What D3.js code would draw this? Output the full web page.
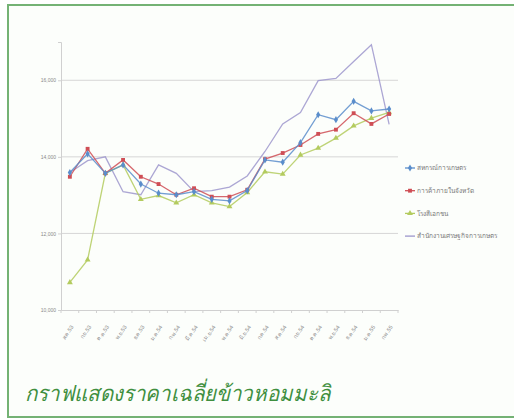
<!DOCTYPE html>
<html>
<head>
<meta charset="utf-8">
<script src="https://cdn.jsdelivr.net/npm/d3@7"></script>
<style>
  body { margin: 0; background: #fff; }
  svg { display: block; font-family: "Noto Sans", "DejaVu Sans", sans-serif; }
</style>
</head>
<body>
<svg width="514" height="419"></svg>
<script>
// months ส.ค.53 - ก.พ.55
var months = ['ส.ค.53', 'ก.ย.53', 'ต.ค.53', 'พ.ย.53', 'ธ.ค.53', 'ม.ค.54', 'ก.พ.54',
    'มี.ค.54', 'เม.ย.54', 'พ.ค.54', 'มิ.ย.54', 'ก.ค.54', 'ส.ค.54', 'ก.ย.54',
    'ต.ค.54', 'พ.ย.54', 'ธ.ค.54', 'ม.ค.55', 'ก.พ.55'];

var coop = [13590, 14080, 13570, 13790, 13290, 13050, 13010, 13090, 12890, 12850,
    13120, 13920, 13860, 14370, 15100, 14970, 15450, 15200, 15250];
var trade = [13480, 14210, 13570, 13920, 13480, 13290, 13010, 13180, 12960, 12960,
    13140, 13940, 14100, 14310, 14600, 14710, 15140, 14860, 15120];
var mill = [10720, 11310, 13570, 13790, 12890, 12990, 12800, 13010, 12800, 12700,
    13070, 13610, 13550, 14050, 14230, 14490, 14810, 15010, 15160];
var oae = [13590, 13900, 14000, 13090, 13010, 13790, 13570, 13090, 13120, 13210,
    13500, 14140, 14860, 15160, 15990, 16050, 16490, 16930, 14850];

var seriesNames = ['สหกรณ์การเกษตร', 'การค้าภายในจังหวัด', 'โรงสีเอกชน', 'สำนักงานเศรษฐกิจการเกษตร'];
var yTicks = [10000, 12000, 14000, 16000];

var series = [
    { name: seriesNames[0], values: coop, color: '#5a8dcb', marker: d3.symbolDiamond },
    { name: seriesNames[1], values: trade, color: '#cf4e55', marker: d3.symbolSquare },
    { name: seriesNames[2], values: mill, color: '#b3cb5e', marker: d3.symbolTriangle },
    { name: seriesNames[3], values: oae, color: '#9d96cc', marker: null }
];

var svg = d3.select('svg');

// frame
svg.append('rect')
    .attr('x', 8).attr('y', 5)
    .attr('width', 520).attr('height', 412)
    .attr('fill', '#fcfefb')
    .attr('stroke', '#74b274')
    .attr('stroke-width', 2);

var plotLeft = 61, plotRight = 398, plotTop = 42, plotBottom = 310;

var x = d3.scaleBand().domain(months).range([plotLeft, plotRight]);
var y = d3.scaleLinear().domain([10000, 17000]).range([plotBottom, plotTop]);

// gridlines
svg.append('g')
    .selectAll('line')
    .data(yTicks.slice(1))
    .enter()
    .append('line')
        .attr('x1', plotLeft).attr('x2', plotRight)
        .attr('y1', function(d) { return y(d); })
        .attr('y2', function(d) { return y(d); })
        .attr('stroke', '#d6d6d6')
        .attr('stroke-width', 1);

// y axis
var yAxis = svg.append('g')
    .attr('transform', 'translate(' + plotLeft + ',0)')
    .call(d3.axisLeft(y).tickValues(yTicks).tickSize(3).tickFormat(d3.format(',')));
yAxis.select('.domain').attr('stroke', '#d0d0d0');
yAxis.selectAll('.tick line').attr('stroke', '#d0d0d0');
yAxis.selectAll('text').attr('fill', '#8a8a8a').attr('font-size', 5).attr('x', -5);

// x axis
var xAxis = svg.append('g')
    .attr('transform', 'translate(0,' + plotBottom + ')')
    .call(d3.axisBottom(x).tickSize(0));
xAxis.select('.domain').attr('stroke', '#d0d0d0');
xAxis.selectAll('.tick text')
    .attr('fill', '#8a8a8a')
    .attr('font-size', 5.5)
    .attr('text-anchor', 'end')
    .attr('y', 0)
    .attr('dy', 0)
    .attr('transform', 'translate(4,17) rotate(-55)');
// tick marks between categories
svg.append('g')
    .selectAll('line')
    .data(months.concat(['end']))
    .enter()
    .append('line')
        .attr('x1', function(d, i) { return plotLeft + i * x.bandwidth(); })
        .attr('x2', function(d, i) { return plotLeft + i * x.bandwidth(); })
        .attr('y1', plotBottom).attr('y2', plotBottom + 3)
        .attr('stroke', '#d0d0d0');

var line = d3.line()
    .x(function(d, i) { return x(months[i]) + x.bandwidth() / 2; })
    .y(function(d) { return y(d); });

// draw purple first so other series sit over it
series.slice().reverse().forEach(function(s) {
    svg.append('path')
        .datum(s.values)
        .attr('d', line)
        .attr('fill', 'none')
        .attr('stroke', s.color)
        .attr('stroke-width', 1.3)
        .attr('opacity', 0.85);

    if (!s.marker) return;
    svg.append('g')
        .selectAll('path')
        .data(s.values)
        .enter()
        .append('path')
            .attr('transform', function(d, i) {
                return 'translate(' + (x(months[i]) + x.bandwidth() / 2) + ',' + y(d) + ')';
            })
            .attr('d', d3.symbol().type(s.marker).size(15))
            .attr('fill', s.color);
});

// legend
var legend = svg.append('g')
    .selectAll('g')
    .data(series)
    .enter()
    .append('g')
        .attr('transform', function(d, i) { return 'translate(405,' + (168 + i * 22.7) + ')'; });
legend.append('line')
    .attr('x1', 0).attr('x2', 10)
    .attr('stroke', function(d) { return d.color; })
    .attr('stroke-width', 1.3);
legend.filter(function(d) { return d.marker; })
    .append('path')
        .attr('transform', 'translate(5,0)')
        .attr('d', function(d) { return d3.symbol().type(d.marker).size(15)(); })
        .attr('fill', function(d) { return d.color; });
legend.append('text')
    .attr('x', 12).attr('dy', '0.35em')
    .attr('font-size', 6.5)
    .attr('fill', '#777')
    .text(function(d) { return d.name; });

// title
svg.append('text')
    .attr('x', 25).attr('y', 401)
    .attr('font-size', 22)
    .attr('font-style', 'italic')
    .attr('fill', '#3f8f3f')
    .attr('textLength', 305)
    .attr('lengthAdjust', 'spacingAndGlyphs')
    .text('กราฟแสดงราคาเฉลี่ยข้าวหอมมะลิ');
</script>
</body>
</html>
